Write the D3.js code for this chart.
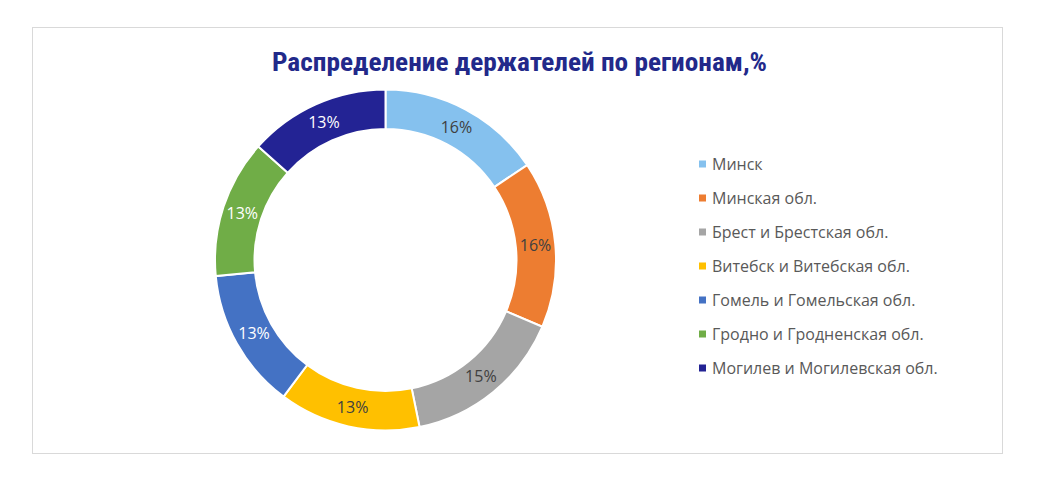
<!DOCTYPE html>
<html><head><meta charset="utf-8">
<script src="https://cdn.jsdelivr.net/npm/d3@7"></script>
<style>body{margin:0;background:#fff}svg{display:block}</style>
</head><body><svg id="c" width="1038" height="477"></svg>
<script>
const categories = ["Минск","Минская обл.","Брест и Брестская обл.","Витебск и Витебская обл.","Гомель и Гомельская обл.","Гродно и Гродненская обл.","Могилев и Могилевская обл."];
const values = [15.6, 15.8, 15.4, 13.4, 13.3, 13.1, 13.4];
const colors = ["#85C1EE","#ED7D31","#A5A5A5","#FFC000","#4472C4","#70AD47","#232394"];
const labelColors = ["#404040","#404040","#404040","#404040","#ffffff","#ffffff","#ffffff"];
const title = "Распределение держателей по регионам,%";

const svg = d3.select("#c");
svg.append("rect").attr("x",32.5).attr("y",27.5).attr("width",970).attr("height",426)
  .attr("fill","#fff").attr("stroke","#d9d9d9").attr("stroke-width",1);

svg.append("text").attr("x",519.5).attr("y",71).attr("text-anchor","middle")
  .attr("font-family","'Liberation Sans Narrow','Arial Narrow','Roboto Condensed',sans-serif")
  .attr("font-weight","bold").attr("font-size",26).attr("fill","#22298A")
  .attr("textLength",495).attr("lengthAdjust","spacingAndGlyphs").text(title);

const cx = 385.5, cy = 260, R = 170.5, r = 131;
const data = categories.map((c,i)=>({c, v: values[i], i}));
const pie = d3.pie().value(d=>d.v).sort(null);
const arc = d3.arc().innerRadius(r).outerRadius(R);
const labelArc = d3.arc().innerRadius((r+R)/2).outerRadius((r+R)/2);
const g = svg.append("g").attr("transform",`translate(${cx},${cy})`);
const arcs = pie(data);
g.selectAll("path").data(arcs).join("path")
  .attr("d",arc).attr("fill",d=>colors[d.data.i]).attr("stroke","#fff").attr("stroke-width",2);
g.selectAll("text").data(arcs).join("text")
  .attr("transform",d=>`translate(${labelArc.centroid(d)})`)
  .attr("text-anchor","middle").attr("dy","0.35em")
  .attr("font-family","'Open Sans', Lato, sans-serif").attr("font-size",16)
  .attr("fill",d=>labelColors[d.data.i])
  .text(d=>Math.round(d.data.v)+"%");

const leg = svg.append("g");
const ly = d3.scalePoint().domain(categories).range([164,368]);
categories.forEach((c,i)=>{
  const y = ly(c);
  leg.append("rect").attr("x",699).attr("y",y-3.5).attr("width",7).attr("height",7).attr("fill",colors[i]);
  leg.append("text").attr("x",712).attr("y",y).attr("dy","0.35em")
    .attr("font-family","'Open Sans', Lato, sans-serif").attr("font-size",16).attr("fill","#595959").text(c);
});
</script></body></html>
